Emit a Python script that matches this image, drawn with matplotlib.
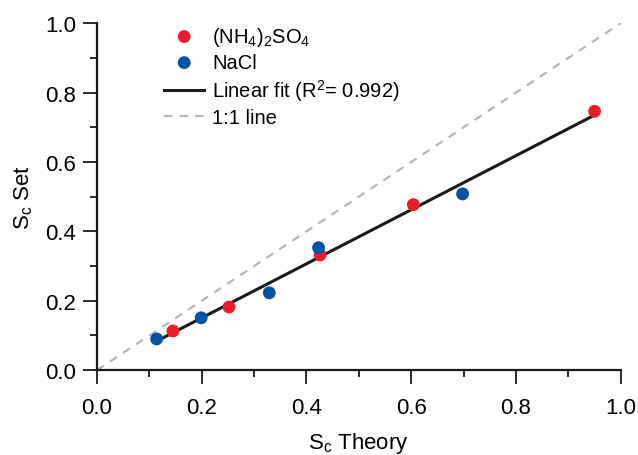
import numpy as np
import matplotlib
matplotlib.use("Agg")
import matplotlib.pyplot as plt
from matplotlib.ticker import MultipleLocator, FormatStrFormatter

plt.rcParams['font.family'] = ['Liberation Sans', 'DejaVu Sans']
plt.rcParams['mathtext.fontset'] = 'custom'
plt.rcParams['mathtext.rm'] = 'Liberation Sans'
plt.rcParams['mathtext.it'] = 'Liberation Sans:italic'
plt.rcParams['mathtext.default'] = 'regular'

# Critical supersaturation: theory vs. set value
amsul_theory = [0.145, 0.252, 0.426, 0.604, 0.950]
amsul_set = [0.113, 0.182, 0.332, 0.477, 0.746]
nacl_theory = [0.114, 0.199, 0.329, 0.423, 0.698]
nacl_set = [0.090, 0.151, 0.223, 0.353, 0.508]
r_squared = 0.992

all_x = np.array(amsul_theory + nacl_theory)
all_y = np.array(amsul_set + nacl_set)
slope, intercept = np.polyfit(all_x, all_y, 1)
fit_x = np.array([all_x.min(), all_x.max()])

fig = plt.figure(figsize=(6.38, 4.56), dpi=100)
ax = fig.add_axes([0.152, 0.186, 0.821, 0.761])

ax.plot([0, 1], [0, 1], ls=(0, (4, 3.5)), color='#b4b4b4', lw=1.5,
        label='1:1 line', zorder=1)
ax.plot(fit_x, slope * fit_x + intercept, color='#1a1a1a', lw=2.2,
        label=f'Linear fit (R$^2$= {r_squared})', zorder=2)
ax.scatter(amsul_theory, amsul_set, s=85, color='#ec1c2a', edgecolors='none',
           label='(NH$_4$)$_2$SO$_4$', zorder=3)
ax.scatter(nacl_theory, nacl_set, s=85, color='#0052a5', edgecolors='none',
           label='NaCl', zorder=4)

ax.set_xlim(0, 1.0)
ax.set_ylim(0, 1.0)
ax.xaxis.set_major_locator(MultipleLocator(0.2))
ax.xaxis.set_minor_locator(MultipleLocator(0.1))
ax.yaxis.set_major_locator(MultipleLocator(0.2))
ax.yaxis.set_minor_locator(MultipleLocator(0.1))
ax.xaxis.set_major_formatter(FormatStrFormatter('%.1f'))
ax.yaxis.set_major_formatter(FormatStrFormatter('%.1f'))

for side in ('top', 'right'):
    ax.spines[side].set_visible(False)
for side in ('left', 'bottom'):
    ax.spines[side].set_linewidth(1.6)
    ax.spines[side].set_color('#1a1a1a')

ax.tick_params(which='major', direction='out', length=10, width=1.3,
               labelsize=16, color='#1a1a1a')
ax.tick_params(axis='x', which='major', pad=9)
ax.tick_params(axis='y', which='major', pad=5)
ax.tick_params(which='minor', direction='out', length=5, width=1.3,
               color='#1a1a1a')

ax.set_xlabel('S$_c$ Theory', fontsize=16, labelpad=9)
ax.set_ylabel('S$_c$ Set', fontsize=16, labelpad=7)

handles, labels = ax.get_legend_handles_labels()
order = [2, 3, 1, 0]
ax.legend([handles[i] for i in order], [labels[i] for i in order],
          loc='upper left', bbox_to_anchor=(0.105, 1.03), frameon=False,
          fontsize=14.5, handlelength=2.0, handletextpad=0.4,
          labelspacing=0.25, borderaxespad=0.2)

fig.savefig('out.png', dpi=100)
